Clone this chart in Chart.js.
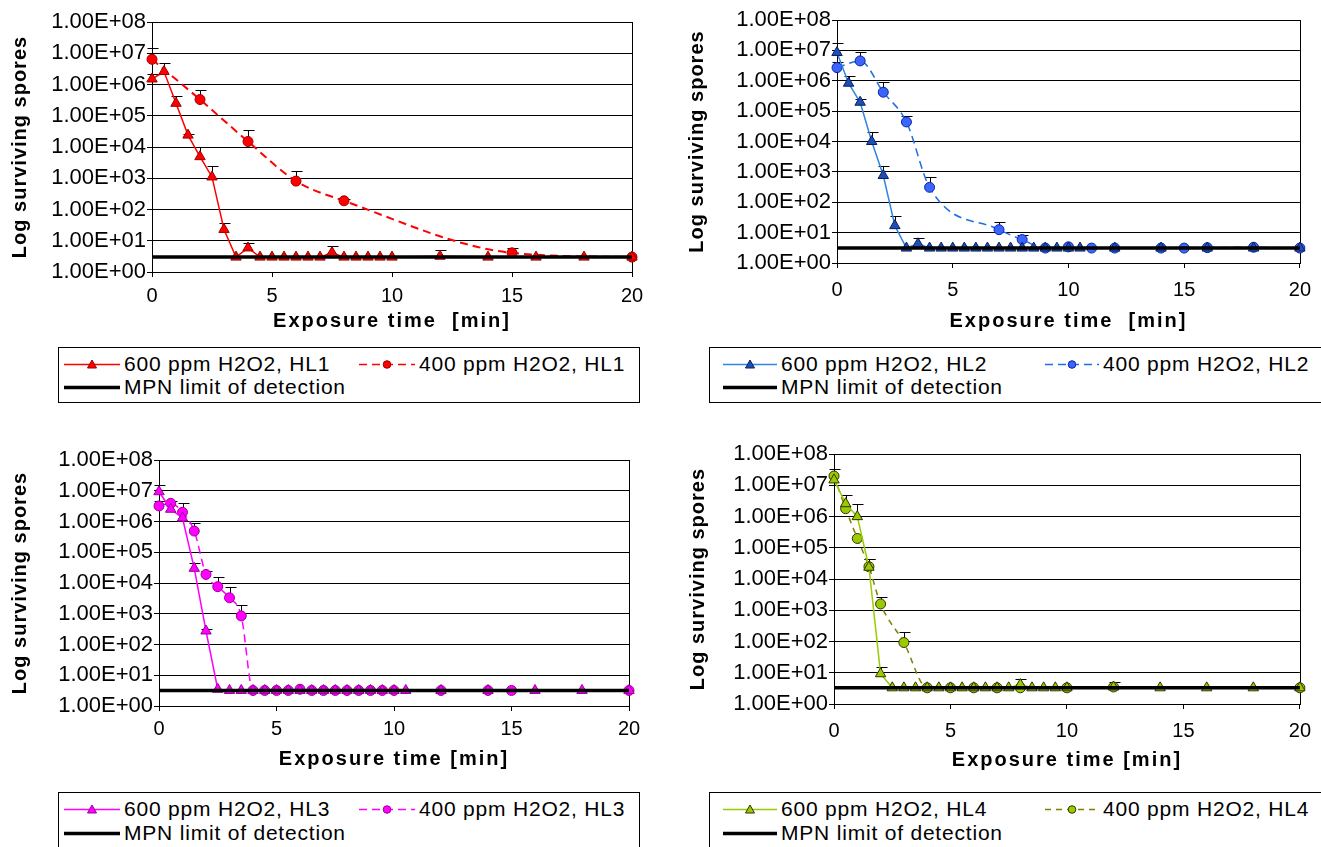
<!DOCTYPE html>
<html><head><meta charset="utf-8">
<script src="https://cdn.jsdelivr.net/npm/chart.js@4.4.1/dist/chart.umd.min.js"></script>
<style>
html,body{margin:0;padding:0;background:#fff;width:1321px;height:847px;overflow:hidden;font-family:"Liberation Sans",Arial,sans-serif;}
canvas{position:absolute;}
.legend{position:absolute;border:1px solid #000;box-sizing:border-box;background:#fff;overflow:hidden;}
.item{position:absolute;display:flex;align-items:center;height:24px;font-size:21px;letter-spacing:0.8px;white-space:nowrap;color:#000;}
.item svg{margin-right:4px;flex:none;}
</style></head><body>
<canvas id="c1" width="660" height="340" style="left:0;top:0"></canvas>
<canvas id="c2" width="646" height="340" style="left:675px;top:0"></canvas>
<canvas id="c3" width="660" height="340" style="left:0;top:440px"></canvas>
<canvas id="c4" width="646" height="340" style="left:675px;top:440px"></canvas>
<script>
// ---------- data ----------
const xTicks = [0, 5, 10, 15, 20];
const yTicks = [1e0, 1e1, 1e2, 1e3, 1e4, 1e5, 1e6, 1e7, 1e8];
const lodTime = [0, 20];

// HL1
const t600_HL1 = [0,0.5,1,1.5,2,2.5,3,3.5,4,4.5,5,5.5,6,6.5,7,7.5,8,8.5,9,9.5,10,12,14,16,18,20];
const v600_HL1 = [1.5e6,2.6e6,2.5e5,2.4e4,4.9e3,1.1e3,23,3,5.9,3,3,3,3,3,3,4.2,3,3,3,3,3,3.2,3,3,3,3];
const e600_HL1 = [2.2e6,4.8e6,4.3e5,2.6e4,9.8e3,2.5e3,37,null,8.7,null,null,null,null,null,null,6.6,null,null,null,null,null,4.9,null,null,null,null];
const t400_HL1 = [0,2,4,6,8,15,20];
const v400_HL1 = [6.4e6,3.3e5,1.5e4,810,190,4.1,3];
const e400_HL1 = [1.45e7,6.9e5,3.6e4,1.7e3,220,5.9,null];
const lod_HL1 = [3, 3];

// HL2
const t600_HL2 = [0,0.5,1,1.5,2,2.5,3,3.5,4,4.5,5,5.5,6,6.5,7,7.5,8,8.5,9,9.5,10,10.5,12,14,16,18,20];
const v600_HL2 = [8.5e6,8.3e5,1.96e5,1e4,760,17,3.1,4.3,3.1,3.1,3.1,3.1,3.1,3.1,3.1,3.1,3.1,3.1,3.1,3.1,3.1,3.1,3.1,3.1,3.1,3.1,3.1];
const e600_HL2 = [1.7e7,1.45e6,2.6e5,2e4,1.6e3,34,null,6.5,null,null,null,null,null,null,null,null,null,null,null,null,null,null,null,null,null,null,null];
const t400_HL2 = [0,1,2,3,4,7,8,9,10,11,12,14,15,16,18,20];
const v400_HL2 = [2.7e6,4.5e6,4.2e5,4.4e4,310,12.5,5.9,3.1,3.4,3.1,3.1,3.1,3.1,3.2,3.3,3.1];
const e400_HL2 = [4.1e6,8.7e6,9.3e5,7.1e4,660,22,8.1,null,null,null,null,null,null,null,null,null];
const lod_HL2 = [3.1, 3.1];

// HL3
const t600_HL3 = [0,0.5,1,1.5,2,2.5,3,3.5,4,4.5,5,5.5,6,6.5,7,7.5,8,8.5,9,9.5,10,10.5,12,14,16,18,20];
const v600_HL3 = [9.3e6,2.5e6,1.3e6,3e4,275,3.5,3.2,3.2,3.2,3.2,3.2,3.2,3.2,3.2,3.2,3.2,3.2,3.2,3.2,3.2,3.2,3.2,3.2,3.2,3.2,3.2,3.2];
const e600_HL3 = [1.5e7,null,null,4.6e4,316,null,null,null,null,null,null,null,null,null,null,null,null,null,null,null,null,null,null,null,null,null,null];
const t400_HL3 = [0,0.5,1,1.5,2,2.5,3,3.5,4,4.5,5,5.5,6,6.5,7,7.5,8,8.5,9,9.5,10,12,14,15,20];
const v400_HL3 = [3.2e6,3.9e6,2e6,4.9e5,1.9e4,7.6e3,3.3e3,850,3.2,3.2,3.2,3.2,3.5,3.2,3.2,3.2,3.2,3.2,3.2,3.2,3.2,3.2,3.2,3.2,3.2];
const e400_HL3 = [4.7e6,4.7e6,3.9e6,8.7e5,2.5e4,1.55e4,7.2e3,1.95e3,null,null,null,null,null,null,null,null,null,null,null,null,null,null,null,null,null];
const lod_HL3 = [3.2, 3.2];

// HL4
const t600_HL4 = [0,0.5,1,1.5,2,2.5,3,3.5,4,4.5,5,5.5,6,6.5,7,7.5,8,8.5,9,9.5,10,12,14,16,18,20];
const v600_HL4 = [1.5e7,2.6e6,1e6,2.4e4,9.3,3.3,3.3,3.3,3.3,3.3,3.3,3.3,3.3,3.3,3.3,3.3,4.2,3.3,3.3,3.3,3.3,3.5,3.3,3.3,3.3,3.3];
const e600_HL4 = [null,5.1e6,2.45e6,4.4e4,14.8,null,null,null,null,null,null,null,null,null,null,null,6.3,null,null,null,null,null,null,null,null,null];
const t400_HL4 = [0,0.5,1,1.5,2,3,4,5,6,7,8,10,12,20];
const v400_HL4 = [2e7,1.8e6,2e5,2.5e4,1.6e3,93,3.3,3.3,3.3,3.3,3.3,3.3,3.5,3.3];
const e400_HL4 = [3.3e7,null,null,4.3e4,2.6e3,195,null,null,null,null,null,null,5.2,null];
const lod_HL4 = [3.3, 3.3];

// ---------- helpers ----------
const FONT = '"Liberation Sans", Arial, sans-serif';
const pts = (t, v) => t.map((x, i) => ({x: x, y: v[i]}));
function sci(v) {
  const e = Math.floor(Math.log10(v) + 1e-9);
  const m = v / Math.pow(10, e);
  return m.toFixed(2) + 'E' + (e < 0 ? '-' : '+') + String(Math.abs(e)).padStart(2, '0');
}

const errorBars = {
  id: 'errorBars',
  beforeDatasetsDraw(chart) {
    const ctx = chart.ctx, ys = chart.scales.y;
    const a = chart.chartArea;
    ctx.save();
    ctx.strokeStyle = '#000'; ctx.lineWidth = 1;
    ctx.strokeRect(Math.round(a.left) + 0.5, Math.round(a.top) + 0.5, Math.round(a.right - a.left), Math.round(a.bottom - a.top));
    chart.data.datasets.forEach((ds, di) => {
      if (!ds.errUp) return;
      const meta = chart.getDatasetMeta(di);
      meta.data.forEach((pt, i) => {
        const e = ds.errUp[i];
        if (e == null) return;
        const x = Math.round(pt.x) + 0.5;
        const y1 = Math.round(ys.getPixelForValue(e)) + 0.5;
        ctx.beginPath();
        ctx.moveTo(x, pt.y); ctx.lineTo(x, y1);
        ctx.moveTo(x - 5, y1); ctx.lineTo(x + 6, y1);
        ctx.stroke();
      });
    });
    ctx.restore();
  }
};

const titleSpacing = {
  id: 'titleSpacing',
  beforeDraw(chart, args, opts) {
    Object.keys(chart.scales).forEach(k => {
      const s = chart.scales[k];
      if (s.__sp) return;
      const orig = s.drawTitle;
      const sp = (opts && opts[k]) || '0px';
      s.drawTitle = function () {
        this.ctx.save();
        this.ctx.letterSpacing = sp;
        orig.call(this);
        this.ctx.restore();
      };
      s.__sp = true;
    });
  }
};

function series(label, t, v, e, style) {
  return Object.assign({
    label: label, data: pts(t, v), errUp: e,
    borderWidth: 1.5, pointBorderWidth: 1, clip: false, order: 1
  }, style);
}

function makeChart(id, p, datasets) {
  const cx = p.cx, cy = p.cy, cw = p.cw, ch = p.ch;
  return new Chart(document.getElementById(id), {
    type: 'line',
    data: {datasets: datasets},
    plugins: [errorBars, titleSpacing],
    options: {
      responsive: false, animation: false, devicePixelRatio: 1,
      layout: {padding: {top: p.T - cy, right: cx + cw - p.R, left: 0, bottom: 0}},
      plugins: {legend: {display: false}, tooltip: {enabled: false}, titleSpacing: {x: p.xSp, y: p.ySp}},
      scales: {
        x: {
          type: 'linear', min: 0, max: 20,
          afterBuildTicks: s => { s.ticks = xTicks.map(v => ({value: v})); },
          afterFit: s => { s.height = cy + ch - p.B; },
          grid: {drawOnChartArea: false, drawTicks: true, tickLength: 5, color: '#000', lineWidth: 1},
          border: {display: true, color: '#000', width: 1},
          ticks: {font: {family: FONT, size: 20}, color: '#000', padding: p.xTickPad, maxRotation: 0, autoSkip: false},
          title: {display: true, text: p.xTitle, color: '#000', font: {family: FONT, size: 20, weight: 'bold'}, padding: {top: 0, bottom: p.xTitlePad}}
        },
        y: {
          type: 'logarithmic', min: 1, max: 1e8,
          afterBuildTicks: s => { s.ticks = yTicks.map(v => ({value: v})); },
          afterFit: s => { s.width = p.L - cx; },
          grid: {drawOnChartArea: true, drawTicks: true, tickLength: 5, color: '#000', lineWidth: 1},
          border: {display: true, color: '#000', width: 1},
          ticks: {font: {family: FONT, size: 22}, color: '#000', padding: 1, autoSkip: false, callback: v => sci(v)},
          title: {display: true, text: 'Log surviving spores', color: '#000', font: {family: FONT, size: 20, weight: 'bold'}, padding: {top: p.yTitlePad, bottom: 0}}
        }
      }
    }
  });
}

function markerSvg(ds, w) {
  const dash = ds.borderDash ? ` stroke-dasharray="${ds.borderDash.join(',')}"` : '';
  let m = '';
  const c = w / 2;
  if (ds.pointStyle === 'triangle') {
    m = `<polygon points="${c},3 ${c - 4.5},11 ${c + 4.5},11" fill="${ds.pointBackgroundColor}" stroke="${ds.pointBorderColor}" stroke-width="1"/>`;
  } else if (ds.pointStyle === 'circle') {
    m = `<circle cx="${c}" cy="7.5" r="3.8" fill="${ds.pointBackgroundColor}" stroke="${ds.pointBorderColor}" stroke-width="1"/>`;
  }
  return `<svg width="${w}" height="15" viewBox="0 0 ${w} 15"><line x1="0" y1="7.5" x2="${w}" y2="7.5" stroke="${ds.borderColor}" stroke-width="${ds.lw || 1.5}"${dash}/>${m}</svg>`;
}

function makeLegend(chart, L) {
  const box = document.createElement('div');
  box.className = 'legend';
  box.style.left = L.left + 'px'; box.style.top = L.top + 'px';
  box.style.width = L.width + 'px'; box.style.height = L.height + 'px';
  const pos = [[L.x1, L.r1], [L.x2, L.r1], [L.x1, L.r2]];
  chart.data.datasets.forEach((ds, i) => {
    const it = document.createElement('div');
    it.className = 'item';
    it.style.left = pos[i][0] + 'px';
    it.style.top = (pos[i][1] - 12) + 'px';
    it.innerHTML = markerSvg(ds, L.sw) + '<span>' + ds.label + '</span>';
    box.appendChild(it);
  });
  document.body.appendChild(box);
}

function styles(c600, tri, triB, c400, circ, circB, dash, w400) {
  return {
    s600: {borderColor: c600, pointStyle: 'triangle', pointRadius: 6, pointBackgroundColor: tri, pointBorderColor: triB, tension: 0},
    s400: {borderColor: c400, borderDash: dash, borderWidth: w400, pointStyle: 'circle', pointRadius: 5, pointBackgroundColor: circ, pointBorderColor: circB, cubicInterpolationMode: 'monotone'},
    lod: {borderColor: '#000', borderWidth: 3.5, lw: 3.5, pointRadius: 0, order: -1, errUp: null}
  };
}

function build(id, p, tag, t6, v6, e6, t4, v4, e4, lod, st, L) {
  const ds = [
    series('600 ppm H2O2, ' + tag, t6, v6, e6, st.s600),
    series('400 ppm H2O2, ' + tag, t4, v4, e4, st.s400),
    series('MPN limit of detection', lodTime, lod, null, st.lod)
  ];
  const ch = makeChart(id, p, ds);
  makeLegend(ch, L);
  return ch;
}

build('c1', {cx: 0, cy: 0, cw: 660, ch: 340, L: 152, R: 632, T: 22, B: 272, xTickPad: 7, xTitlePad: 7, yTitlePad: 8, xTitle: 'Exposure time  [min]', xSp: '2px', ySp: '1px'},
  'HL1', t600_HL1, v600_HL1, e600_HL1, t400_HL1, v400_HL1, e400_HL1, lod_HL1,
  styles('#FF0000', '#FF0000', '#990000', '#FF0000', '#FF0000', '#990000', [8, 5], 2),
  {left: 58, top: 347, width: 582, height: 56, x1: 5, x2: 300, r1: 16, r2: 39, sw: 56});

build('c2', {cx: 675, cy: 0, cw: 646, ch: 340, L: 837, R: 1308, T: 20, B: 263, xTickPad: 10, xTitlePad: 7, yTitlePad: 10, xTitle: 'Exposure time  [min]', xSp: '2px', ySp: '1px'},
  'HL2', t600_HL2, v600_HL2, e600_HL2, t400_HL2, v400_HL2, e400_HL2, lod_HL2,
  styles('#2E86DE', '#1E50B4', '#0A1E64', '#1E6EE6', '#3C64FF', '#0A28A0', [8, 5], 1.5),
  {left: 709, top: 347, width: 640, height: 56, x1: 13, x2: 335, r1: 16, r2: 39, sw: 54});

build('c3', {cx: 0, cy: 440, cw: 660, ch: 340, L: 159, R: 629, T: 460, B: 706, xTickPad: 6, xTitlePad: 9, yTitlePad: 8, xTitle: 'Exposure time [min]', xSp: '2px', ySp: '1px'},
  'HL3', t600_HL3, v600_HL3, e600_HL3, t400_HL3, v400_HL3, e400_HL3, lod_HL3,
  styles('#FF00FF', '#FF00FF', '#990099', '#FF00FF', '#FF00FF', '#990099', [8, 5], 1.5),
  {left: 58, top: 792, width: 582, height: 70, x1: 5, x2: 300, r1: 16, r2: 40, sw: 56});

build('c4', {cx: 675, cy: 440, cw: 646, ch: 340, L: 834, R: 1307, T: 454, B: 704, xTickPad: 10, xTitlePad: 8, yTitlePad: 11, xTitle: 'Exposure time [min]', xSp: '2px', ySp: '1px'},
  'HL4', t600_HL4, v600_HL4, e600_HL4, t400_HL4, v400_HL4, e400_HL4, lod_HL4,
  styles('#99CC00', '#99CC00', '#333300', '#808000', '#99CC00', '#333300', [6, 5], 1.5),
  {left: 709, top: 792, width: 640, height: 70, x1: 13, x2: 335, r1: 16, r2: 40, sw: 54});
</script>
</body></html>
